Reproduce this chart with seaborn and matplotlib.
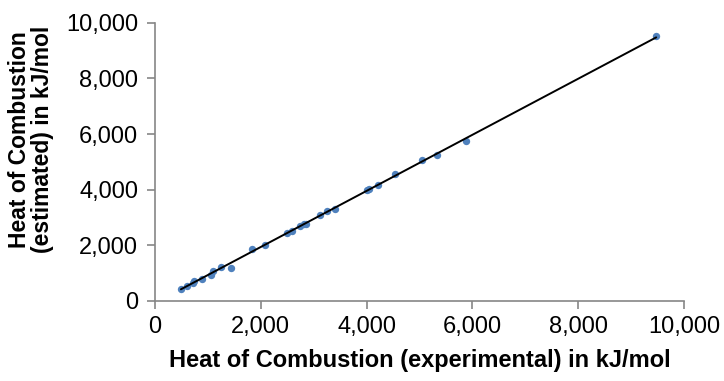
import numpy as np
import pandas as pd
import matplotlib
matplotlib.use("Agg")
import matplotlib.pyplot as plt
from matplotlib.ticker import FuncFormatter
import seaborn as sns

# experimental vs estimated heat of combustion (kJ/mol)
experimental = [491, 611, 713, 737, 895, 1053, 1103, 1241, 1443, 1827, 2086,
                2502, 2584, 2741, 2823, 2850, 3119, 3245, 3409, 4002, 4051,
                4210, 4543, 5047, 5337, 5885, 9471]
estimated = [433, 555, 649, 721, 807, 937, 1081, 1226, 1190, 1875, 2019,
             2452, 2524, 2693, 2776, 2760, 3089, 3234, 3317, 3980, 4016,
             4171, 4557, 5072, 5241, 5768, 9517]

xticks = [0, 2000, 4000, 6000, 8000, 10000]
yticks = [0, 2000, 4000, 6000, 8000, 10000]

df = pd.DataFrame({"exp": experimental, "est": estimated})

sns.set_style("white")
plt.rcParams["font.family"] = ["Liberation Sans", "DejaVu Sans"]
plt.rcParams["text.color"] = "black"
plt.rcParams["axes.labelcolor"] = "black"

fig = plt.figure(figsize=(7.24, 3.81), dpi=100)
ax = fig.add_axes([0.214, 0.21, 0.731, 0.73])

sns.regplot(data=df, x="exp", y="est", ax=ax, ci=None, truncate=True,
            scatter_kws={"s": 28, "color": "#4F81BD", "alpha": 1, "linewidths": 0, "zorder": 2},
            line_kws={"color": "black", "lw": 1.4, "zorder": 3})

ax.set_xlim(0, 10000)
ax.set_ylim(0, 10000)
ax.set_xticks(xticks)
ax.set_yticks(yticks)
fmt = FuncFormatter(lambda v, p: f"{int(v):,}")
ax.xaxis.set_major_formatter(fmt)
ax.yaxis.set_major_formatter(fmt)

for side in ["top", "right"]:
    ax.spines[side].set_visible(False)
for side in ["left", "bottom"]:
    ax.spines[side].set_color("#868686")
    ax.spines[side].set_linewidth(1.2)
ax.tick_params(axis="both", which="major", direction="out", length=6, width=1.2,
               color="#868686", labelsize=17, labelcolor="black")
ax.tick_params(axis="x", pad=5)
ax.tick_params(axis="y", pad=6)
ax.tick_params(left=True, bottom=True)

ax.set_xlabel("Heat of Combustion (experimental) in kJ/mol", fontsize=17,
              fontweight="bold", labelpad=8)
ax.set_ylabel("Heat of Combustion\n(estimated) in kJ/mol", fontsize=16.5,
              fontweight="bold", linespacing=1.0)
ax.yaxis.set_label_coords(-0.19, 0.58)

fig.savefig("out.png", dpi=100)
